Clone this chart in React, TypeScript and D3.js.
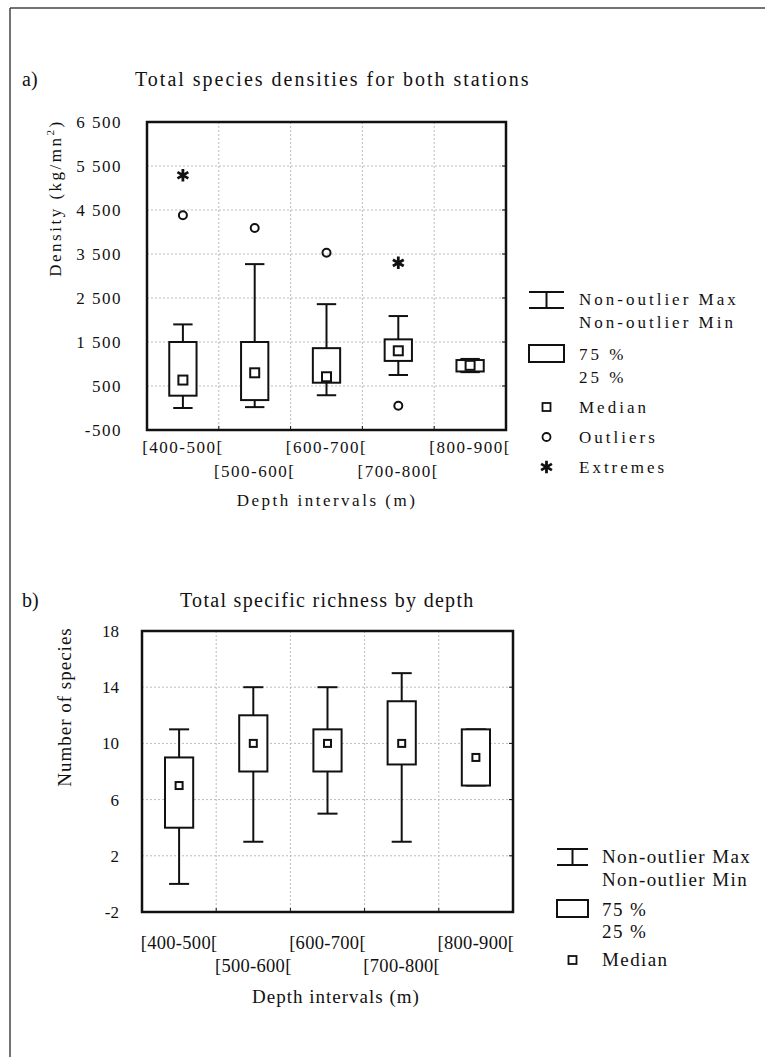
import * as d3 from 'd3'

// depth classes, shared by both panels
const categories = ['[400-500[', '[500-600[', '[600-700[', '[700-800[', '[800-900[']

// a) total densities (kg/mn²)
const densityMin = [0, 20, 290, 750, 815]
const densityQ1 = [280, 180, 575, 1070, 830]
const densityMedian = [635, 800, 710, 1300, 970]
const densityQ3 = [1500, 1500, 1360, 1560, 1090]
const densityMax = [1900, 3270, 2360, 2090, 1115]
const densityOutliers = [[4380], [4090], [3530], [50], []]
const densityExtremes = [[5290], [], [], [3300], []]
const densityTicks = [-500, 500, 1500, 2500, 3500, 4500, 5500, 6500]

// b) specific richness (number of species)
const richnessMin = [0, 3, 5, 3, 7]
const richnessQ1 = [4, 8, 8, 8.5, 7]
const richnessMedian = [7, 10, 10, 10, 9]
const richnessQ3 = [9, 12, 11, 13, 11]
const richnessMax = [11, 14, 14, 15, 11]
const richnessTicks = [-2, 2, 6, 10, 14, 18]

const legendA = ['Non-outlier Max', 'Non-outlier Min', '75 %', '25 %', 'Median', 'Outliers', 'Extremes']
const legendB = ['Non-outlier Max', 'Non-outlier Min', '75 %', '25 %', 'Median']

const FONT = '"Liberation Serif", "Times New Roman", serif'

const spaceFormat = d3.formatLocale({
  decimal: '.',
  thousands: ' ',
  grouping: [3],
  currency: ['', ''],
  minus: '-',
}).format(',')

function Panel(props: any) {
  const {
    box, letter, title, titleX, titleY, titleLs, yTitle, yTitleX, yTitleY,
    ticks, tickFmt, lo, q1, med, q3, hi, outliers, extremes,
    txt, legend, leg, medSize, xTitleY, xTitleX, row1, row2, tickX,
  } = props

  const x = d3.scaleBand().domain(categories).range([box.left, box.right])
  const y = d3.scaleLinear()
    .domain([ticks[0], ticks[ticks.length - 1]])
    .range([box.bottom, box.top])
  const bw = x.bandwidth()
  const boxW = bw * 0.38
  const capW = bw * 0.27
  const cx = (c: string) => (x(c) as number) + bw / 2
  const asterisk = d3.symbol(d3.symbolAsterisk, 110)()
  const lx = (leg.x0 + leg.x1) / 2

  return (
    <g fontFamily={FONT} fill="#111">
      <text x={22} y={titleY} fontSize={20}>{letter}</text>
      <text x={titleX} y={titleY} fontSize={20} letterSpacing={titleLs}>{title}</text>

      {/* grid */}
      {ticks.slice(1, -1).map((t: number) => (
        <line key={'h' + t} x1={box.left} x2={box.right} y1={y(t)} y2={y(t)}
          stroke="#bbb" strokeDasharray="2,2" />
      ))}
      {categories.slice(1).map(c => (
        <g key={'v' + c}>
          <line x1={x(c)} x2={x(c)} y1={box.top} y2={box.bottom}
            stroke="#bbb" strokeDasharray="2,2" />
          <line x1={x(c)} x2={x(c)} y1={box.bottom - 4} y2={box.bottom} stroke="#111" />
        </g>
      ))}
      {ticks.slice(1, -1).map((t: number) => (
        <line key={'r' + t} x1={box.right - 4} x2={box.right} y1={y(t)} y2={y(t)} stroke="#111" />
      ))}

      {/* y tick labels */}
      {ticks.map((t: number) => (
        <text key={'t' + t} x={tickX} y={y(t)} dy="0.35em" textAnchor="end"
          fontSize={txt.tick} letterSpacing={txt.tickLs}>{tickFmt(t)}</text>
      ))}

      {/* whiskers + boxes */}
      {categories.map((c, i) => (
        <g key={c} stroke="#111" fill="none" strokeWidth={2}>
          <line x1={cx(c)} x2={cx(c)} y1={y(hi[i])} y2={y(q3[i])} />
          <line x1={cx(c)} x2={cx(c)} y1={y(q1[i])} y2={y(lo[i])} />
          <line x1={cx(c) - capW / 2} x2={cx(c) + capW / 2} y1={y(hi[i])} y2={y(hi[i])} />
          <line x1={cx(c) - capW / 2} x2={cx(c) + capW / 2} y1={y(lo[i])} y2={y(lo[i])} />
          <rect x={cx(c) - boxW / 2} y={y(q3[i])} width={boxW} height={y(q1[i]) - y(q3[i])} fill="#fff" />
          <rect x={cx(c) - medSize / 2} y={y(med[i]) - medSize / 2} width={medSize} height={medSize} fill="#fff" />
          {(outliers ? outliers[i] : []).map((v: number) => (
            <circle key={'o' + v} cx={cx(c)} cy={y(v)} r={4} />
          ))}
          {(extremes ? extremes[i] : []).map((v: number) => (
            <path key={'e' + v} d={asterisk as string} transform={`translate(${cx(c)},${y(v)})`} strokeWidth={2.8} />
          ))}
        </g>
      ))}

      {/* frame */}
      <rect x={box.left} y={box.top} width={box.right - box.left} height={box.bottom - box.top}
        fill="none" stroke="#111" strokeWidth={2.5} />

      {/* x labels, staggered */}
      {categories.map((c, i) => (
        <text key={'x' + c} x={cx(c)} y={i % 2 === 0 ? row1 : row2} textAnchor="middle"
          fontSize={txt.xlab} letterSpacing={txt.xlabLs}>{c}</text>
      ))}
      <text x={xTitleX} y={xTitleY} textAnchor="middle" fontSize={txt.axis} letterSpacing={txt.axisLs}>
        Depth intervals (m)
      </text>
      <text transform={`translate(${yTitleX},${yTitleY}) rotate(-90)`} textAnchor="middle"
        fontSize={txt.axis} letterSpacing={txt.axisLs}>{yTitle}</text>

      {/* legend */}
      <g stroke="#111" fill="none" strokeWidth={2}>
        <line x1={leg.x0} x2={leg.x1} y1={leg.whTop} y2={leg.whTop} />
        <line x1={leg.x0} x2={leg.x1} y1={leg.whTop + 16} y2={leg.whTop + 16} />
        <line x1={lx} x2={lx} y1={leg.whTop} y2={leg.whTop + 16} />
        <rect x={leg.x0} y={leg.boxTop} width={leg.x1 - leg.x0} height={17} />
        <rect x={lx - 4} y={leg.rows[4] - 10} width={8} height={8} strokeWidth={1.8} />
        {legend.length > 5 && (
          <>
            <circle cx={lx} cy={leg.rows[5] - 6} r={4} strokeWidth={1.8} />
            <path d={asterisk as string} transform={`translate(${lx},${leg.rows[6] - 6})`} strokeWidth={2.8} />
          </>
        )}
      </g>
      {legend.map((s: string, i: number) => (
        <text key={'l' + i} x={leg.tx} y={leg.rows[i]} fontSize={txt.leg} letterSpacing={txt.legLs}>{s}</text>
      ))}
    </g>
  )
}

export default function App() {
  return (
    <svg width={765} height={1057} style={{ position: 'absolute', left: 0, top: 0, background: '#fff' }}>
      <rect width={765} height={1057} fill="#fff" />
      <line x1={10} x2={765} y1={8} y2={8} stroke="#444" strokeWidth={1.5} />
      <line x1={10} x2={10} y1={8} y2={1057} stroke="#444" strokeWidth={1.5} />

      <Panel
        box={{ left: 147, right: 506, top: 122, bottom: 430 }}
        letter="a)" title="Total species densities for both stations" titleX={135} titleY={86} titleLs={2}
        yTitle={<>Density (kg/mn<tspan dy={-7} fontSize={11}>2</tspan><tspan dy={7}>)</tspan></>}
        yTitleX={61} yTitleY={198}
        ticks={densityTicks} tickFmt={spaceFormat} tickX={122}
        lo={densityMin} q1={densityQ1} med={densityMedian} q3={densityQ3} hi={densityMax}
        outliers={densityOutliers} extremes={densityExtremes} medSize={9}
        txt={{ tick: 17, tickLs: 1.5, xlab: 17, xlabLs: 1.5, axis: 17, axisLs: 2.5, leg: 17, legLs: 3 }}
        row1={453} row2={477} xTitleX={327} xTitleY={506}
        legend={legendA}
        leg={{ x0: 529, x1: 564, tx: 579, whTop: 292, boxTop: 345, rows: [305, 328, 360, 383, 413, 443, 473] }}
      />

      <Panel
        box={{ left: 142, right: 513, top: 631, bottom: 912 }}
        letter="b)" title="Total specific richness by depth" titleX={180} titleY={607} titleLs={1.3}
        yTitle="Number of species" yTitleX={71} yTitleY={707}
        ticks={richnessTicks} tickFmt={(t: number) => String(t)} tickX={119}
        lo={richnessMin} q1={richnessQ1} med={richnessMedian} q3={richnessQ3} hi={richnessMax}
        medSize={7}
        txt={{ tick: 17, tickLs: 0, xlab: 18.5, xlabLs: 0.3, axis: 19, axisLs: 1, leg: 19, legLs: 1.4 }}
        row1={949} row2={972} xTitleX={336} xTitleY={1003}
        legend={legendB}
        leg={{ x0: 557, x1: 588, tx: 602, whTop: 849, boxTop: 900, rows: [863, 886, 916, 938, 966] }}
      />
    </svg>
  )
}
